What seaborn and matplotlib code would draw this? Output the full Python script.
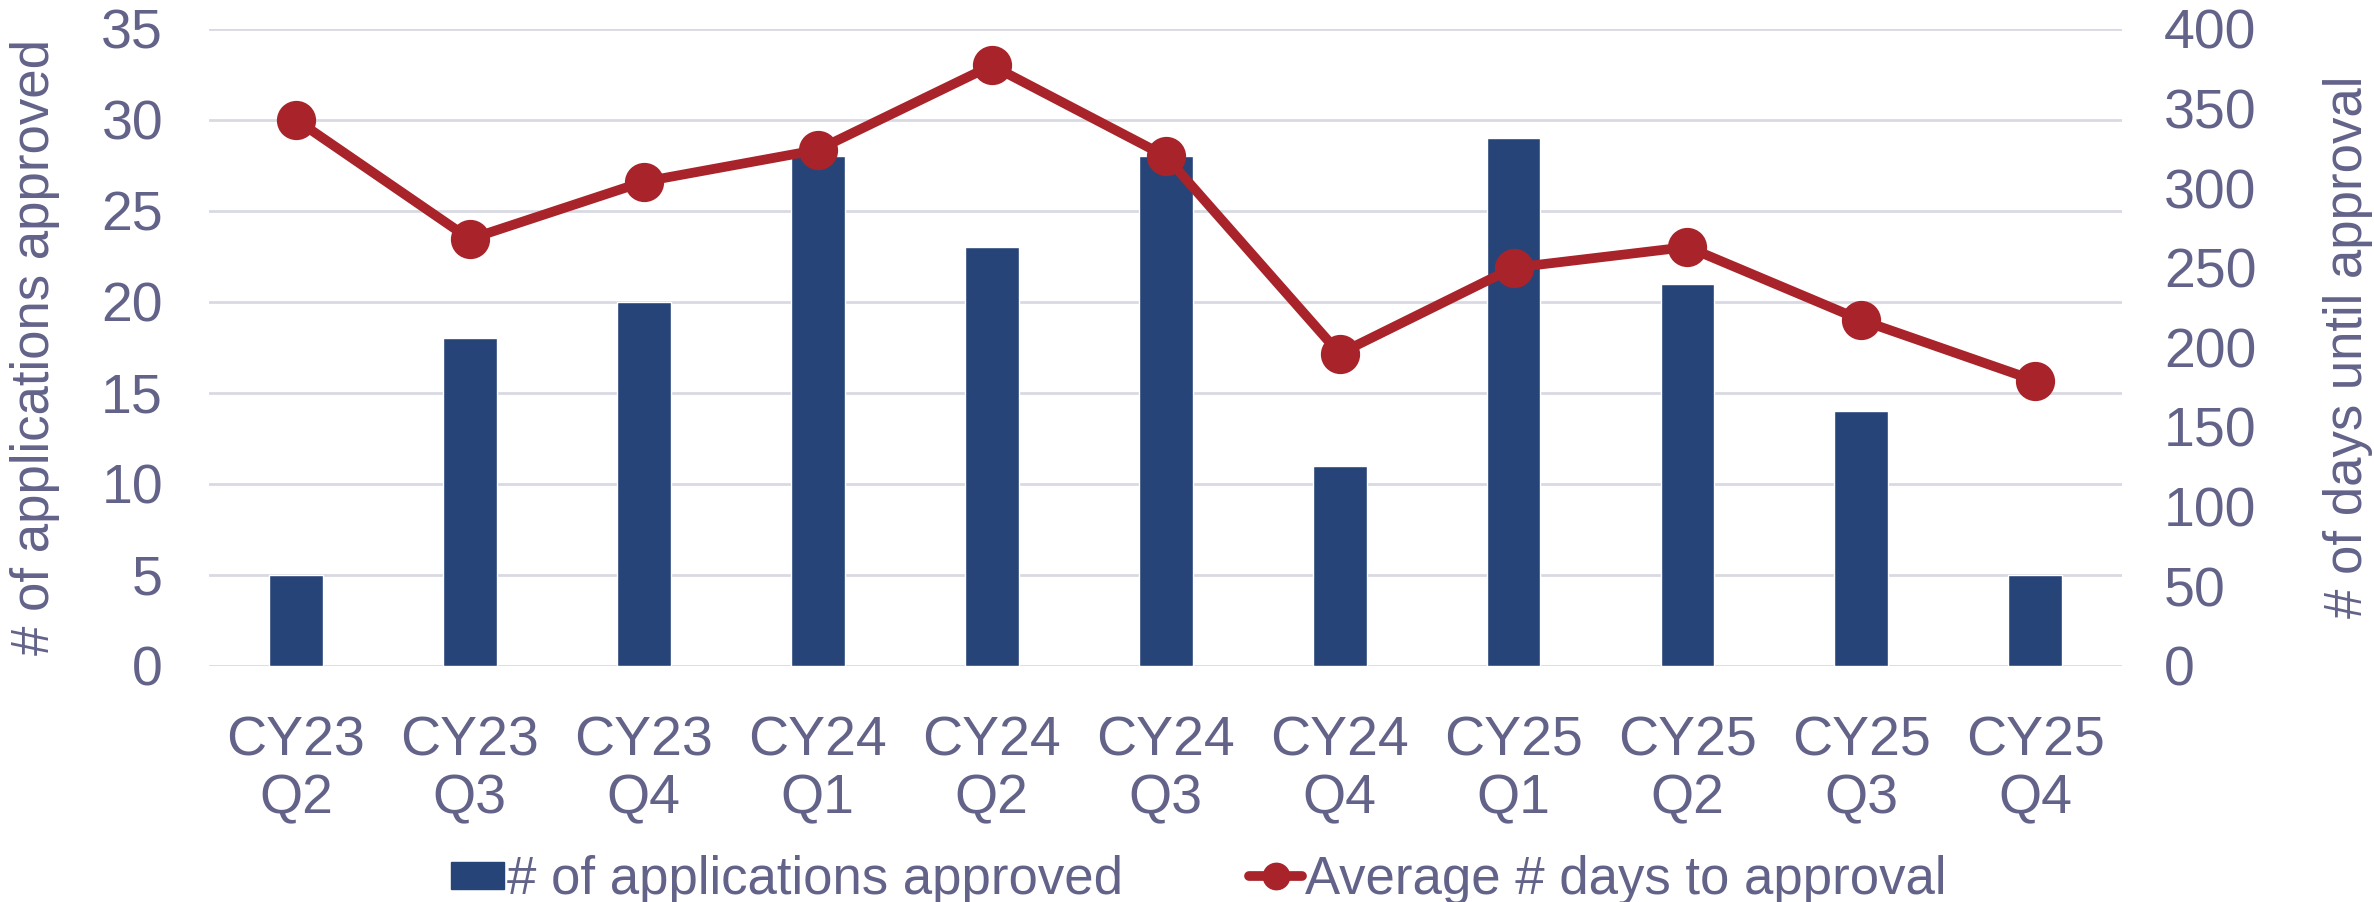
import pandas as pd
import matplotlib
matplotlib.use("Agg")
import matplotlib.pyplot as plt
import seaborn as sns
from matplotlib.lines import Line2D
from matplotlib.patches import Patch, Rectangle
from matplotlib.legend_handler import HandlerPatch

# chart data
quarters = ["CY23\nQ2", "CY23\nQ3", "CY23\nQ4", "CY24\nQ1", "CY24\nQ2", "CY24\nQ3",
            "CY24\nQ4", "CY25\nQ1", "CY25\nQ2", "CY25\nQ3", "CY25\nQ4"]
approved = [5, 18, 20, 28, 23, 28, 11, 29, 21, 14, 5]
avg_days = [343, 268, 304, 324, 377, 320, 196, 250, 263, 217, 179]

df = pd.DataFrame({"quarter": quarters, "approved": approved, "days": avg_days})

sns.set_style("white")
plt.rcParams["font.family"] = ["Liberation Sans", "DejaVu Sans"]
txt = "#63638A"
bar_col = "#264478"
line_col = "#A9232A"

fig = plt.figure(figsize=(23.74, 9.02), dpi=100)
ax = fig.add_axes([0.088, 0.262, 0.806, 0.706])

sns.barplot(data=df, x="quarter", y="approved", color=bar_col, width=0.31,
            saturation=1, ax=ax, zorder=2)
ax.set_ylim(0, 35)
ax.set_yticks(range(0, 36, 5))
ax.set_xlim(-0.5, len(quarters) - 0.5)
ax.grid(axis="y", color="#D9D9E3", linewidth=2, zorder=0)
ax.set_axisbelow(True)
for s in ax.spines.values():
    s.set_visible(False)
ax.set_xlabel("")
ax.set_ylabel("# of applications approved", fontsize=38, color=txt, labelpad=30)
ax.tick_params(axis="both", length=0, labelsize=40, colors=txt, pad=33)
ax.tick_params(axis="x", pad=36)
for lab in ax.get_xticklabels():
    lab.set_linespacing(1.15)

ax2 = ax.twinx()
sns.pointplot(data=df, x="quarter", y="days", color=line_col, markers="o",
              markersize=23, linewidth=7, ax=ax2)
ax2.set_ylim(0, 400)
ax2.set_yticks(range(0, 401, 50))
ax2.set_xlim(-0.5, len(quarters) - 0.5)
for s in ax2.spines.values():
    s.set_visible(False)
ax2.set_ylabel("# of days until approval", fontsize=38, color=txt, labelpad=48)
ax2.tick_params(axis="y", length=0, labelsize=40, colors=txt, pad=30)
ax2.grid(False)


def flat_box(legend, orig_handle, xdescent, ydescent, width, height, fontsize):
    h = 19.5  # points, about 27 px tall like the reference
    return Rectangle((-xdescent, -ydescent + (height - h) / 2), width, h)


handles = [Patch(color=bar_col),
           Line2D([], [], color=line_col, linewidth=7, marker="o", markersize=19)]
labels = ["# of applications approved", "Average # days to approval"]
leg = fig.legend(handles, labels, loc="lower center", bbox_to_anchor=(0.505, -0.056),
                 ncol=2, frameon=False, fontsize=38, handlelength=1.0,
                 handletextpad=0.05, columnspacing=2.4,
                 handler_map={Patch: HandlerPatch(patch_func=flat_box)})
for t in leg.get_texts():
    t.set_color(txt)

fig.savefig("out.png", dpi=100)
